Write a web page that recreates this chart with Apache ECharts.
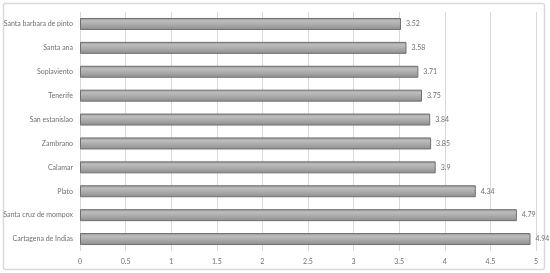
<!DOCTYPE html>
<html><head><meta charset="utf-8">
<script src="https://cdn.jsdelivr.net/npm/echarts@6/dist/echarts.min.js"></script>
<style>html,body{margin:0;padding:0;background:#fff}#c{width:550px;height:273px}</style>
</head><body><div id="c"></div>
<script>
const categories = ["Cartagena de Indias","Santa cruz de mompox","Plato","Calamar","Zambrano","San estanislao","Tenerife","Soplaviento","Santa ana","Santa barbara de pinto"];
const values = [4.94,4.79,4.34,3.9,3.85,3.84,3.75,3.71,3.58,3.52];
const xTicks = [0,0.5,1,1.5,2,2.5,3,3.5,4,4.5,5];

const chart = echarts.init(document.getElementById('c'), null, {renderer:'canvas'});
chart.setOption({
  animation:false,
  backgroundColor:'#fff',
  graphic:[{type:'rect',shape:{x:3.5,y:3.5,width:541,height:266,r:2},style:{fill:'none',stroke:'#d9d9d9',lineWidth:1.5},z:-1}],
  grid:{left:80,right:14,top:12,bottom:22,containLabel:false},
  xAxis:{type:'value',min:0,max:5,interval:0.5,
    axisLine:{show:false},axisTick:{show:false},
    axisLabel:{color:'#707070',fontSize:7,fontFamily:'Lato',margin:7,formatter:v=>String(v)},
    splitLine:{show:true,lineStyle:{color:'#d9d9d9',width:1}}},
  yAxis:{type:'category',data:categories,
    axisLine:{show:false},axisTick:{show:false},
    axisLabel:{color:'#707070',fontSize:7,fontFamily:'Lato',margin:7}},
  series:[{type:'bar',data:values,barWidth:12,
    itemStyle:{borderColor:'#707070',borderWidth:1,
      color:new echarts.graphic.LinearGradient(0,0,0,1,[
        {offset:0,color:'#959595'},{offset:0.25,color:'#bdbdbd'},{offset:0.6,color:'#a8a8a8'},{offset:1,color:'#8c8c8c'}])},
    label:{show:true,position:'right',distance:5,color:'#707070',fontSize:7,fontFamily:'Lato'}}]
});
</script></body></html>
